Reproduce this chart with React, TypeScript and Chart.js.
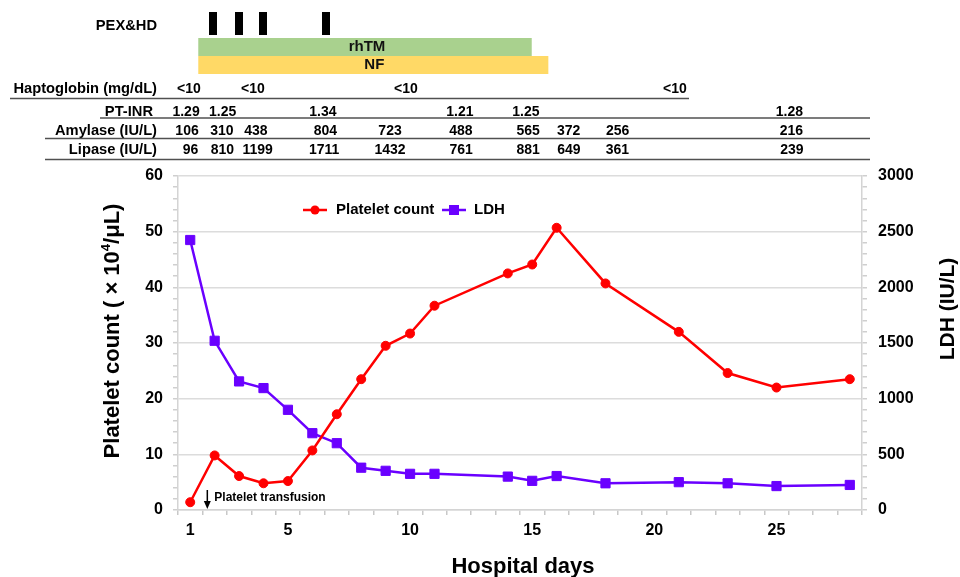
import React, { useEffect, useRef } from 'react';
import { Chart, registerables } from 'chart.js';

Chart.register(...registerables);

// ---------- data ----------
const dayLabels = ['1', '2', '3', '4', '5', '6', '7', '8', '9', '10', '11', '12', '13', '14',
  '15', '16', '17', '18', '19', '20', '21', '22', '23', '24', '25', '26', '27', '28'];
const xTickDays = [1, 5, 10, 15, 20, 25];

const sampleDays = [1, 2, 3, 4, 5, 6, 7, 8, 9, 10, 11, 14, 15, 16, 18, 21, 23, 25, 28];
const plateletCount = [1.4, 9.8, 6.1, 4.8, 5.2, 10.7, 17.2, 23.5, 29.5, 31.7, 36.7, 42.5, 44.1, 50.7, 40.7, 32.0, 24.6, 22.0, 23.5];
const ldhValues = [2425, 1520, 1155, 1095, 900, 690, 600, 380, 352, 325, 325, 300, 262, 305, 240, 250, 240, 215, 225];

// treatment / lab table (positions in hospital-day units)
const pexHdDays = [1.93, 2.99, 3.99, 6.57];
const rhTMSpan = [1.33, 14.98];
const nfSpan = [1.33, 15.66];
const haptoglobinValues = ['<10', '<10', '<10', '<10'];
const haptoglobinAt = [0.95, 3.57, 9.83, 20.84];
const ptInrValues = ['1.29', '1.25', '1.34', '1.21', '1.25', '1.28'];
const ptInrAt = [0.83, 2.33, 6.43, 12.04, 14.74, 25.53];
const amylaseValues = ['106', '310', '438', '804', '723', '488', '565', '372', '256', '216'];
const amylaseAt = [0.87, 2.30, 3.69, 6.53, 9.18, 12.08, 14.83, 16.49, 18.50, 25.61];
const lipaseValues = ['96', '810', '1199', '1711', '1432', '761', '881', '649', '361', '239'];
const lipaseAt = [1.01, 2.32, 3.76, 6.48, 9.18, 12.09, 14.83, 16.50, 18.49, 25.63];
const transfusionDay = 1.7;

const FONT = '"Liberation Sans", Arial, sans-serif';
const RED = '#ff0000';
const PURPLE = '#6a00ff';

const overlay = {
  id: 'overlay',
  afterDraw(chart: any) {
    const ctx: CanvasRenderingContext2D = chart.ctx;
    const xs = chart.scales.x;
    const px = (d: number) => xs.getPixelForValue(d - 1);
    ctx.save();
    ctx.fillStyle = '#000';
    ctx.textBaseline = 'middle';

    // ---- top table ----
    ctx.font = `bold 14.7px ${FONT}`;
    ctx.textAlign = 'right';
    ctx.fillText('PEX&HD', 157, 26);
    ctx.fillText('Haptoglobin (mg/dL)', 157, 89);
    ctx.fillText('PT-INR', 153, 112);
    ctx.fillText('Amylase (IU/L)', 157, 131);
    ctx.fillText('Lipase (IU/L)', 157, 150);

    // PEX&HD bars
    ctx.fillStyle = '#000';
    pexHdDays.forEach((d) => {
      const c = px(d);
      ctx.fillRect(Math.round(c - 4), 12, 8, 23);
    });
    // rhTM and NF bars
    ctx.fillStyle = '#a9d18e';
    ctx.fillRect(px(rhTMSpan[0]), 38, px(rhTMSpan[1]) - px(rhTMSpan[0]), 18);
    ctx.fillStyle = '#ffd966';
    ctx.fillRect(px(nfSpan[0]), 56, px(nfSpan[1]) - px(nfSpan[0]), 18);
    ctx.fillStyle = '#111';
    ctx.textAlign = 'center';
    ctx.font = `bold 15px ${FONT}`;
    ctx.fillText('rhTM', (px(rhTMSpan[0]) + px(rhTMSpan[1])) / 2 + 2, 47);
    ctx.fillText('NF', (px(nfSpan[0]) + px(nfSpan[1])) / 2 + 1, 65);

    ctx.fillStyle = '#000';
    ctx.font = `bold 14px ${FONT}`;
    const row = (vals: string[], at: number[], y: number) => {
      vals.forEach((v, i) => ctx.fillText(v, px(at[i]), y));
    };
    row(haptoglobinValues, haptoglobinAt, 89);
    row(ptInrValues, ptInrAt, 112);
    row(amylaseValues, amylaseAt, 131);
    row(lipaseValues, lipaseAt, 150);

    // table rules
    ctx.strokeStyle = '#505050';
    ctx.lineWidth = 1.5;
    const rule = (x1: number, x2: number, y: number) => {
      ctx.beginPath();
      ctx.moveTo(x1, y);
      ctx.lineTo(x2, y);
      ctx.stroke();
    };
    rule(10, 689, 98.5);
    rule(100, 870, 118);
    rule(45, 870, 138.5);
    rule(45, 870, 159.5);

    // ---- legend ----
    const ly = 210;
    ctx.lineWidth = 2.5;
    ctx.strokeStyle = RED;
    rule(303, 327, ly);
    ctx.fillStyle = RED;
    ctx.beginPath();
    ctx.arc(315, ly, 4.5, 0, Math.PI * 2);
    ctx.fill();
    ctx.strokeStyle = PURPLE;
    rule(442, 466, ly);
    ctx.fillStyle = PURPLE;
    ctx.fillRect(449, ly - 5, 10, 10);
    ctx.fillStyle = '#000';
    ctx.textAlign = 'left';
    ctx.font = `bold 15px ${FONT}`;
    ctx.fillText('Platelet count', 336, ly);
    ctx.fillText('LDH', 474, ly);

    // ---- platelet transfusion annotation ----
    const ax = px(transfusionDay);
    ctx.strokeStyle = '#000';
    ctx.lineWidth = 1.5;
    ctx.beginPath();
    ctx.moveTo(ax, 509);
    ctx.lineTo(ax - 3.5, 501);
    ctx.lineTo(ax + 3.5, 501);
    ctx.closePath();
    ctx.fillStyle = '#000';
    ctx.fill();
    ctx.beginPath();
    ctx.moveTo(ax, 490);
    ctx.lineTo(ax, 503);
    ctx.stroke();
    ctx.font = `bold 12px ${FONT}`;
    ctx.textAlign = 'left';
    ctx.fillText('Platelet transfusion', ax + 7, 498);

    // ---- axis titles ----
    // left
    ctx.save();
    ctx.translate(113, 331);
    ctx.rotate(-Math.PI / 2);
    const big = `bold 22px ${FONT}`;
    const sup = `bold 13px ${FONT}`;
    const p1 = 'Platelet count ( \u00d7 10';
    const p2 = '4';
    const p3 = '/\u03bcL)';
    ctx.font = big;
    const w1 = ctx.measureText(p1).width;
    const w3 = ctx.measureText(p3).width;
    ctx.font = sup;
    const w2 = ctx.measureText(p2).width;
    const total = w1 + w2 + w3;
    let cx = -total / 2;
    ctx.textAlign = 'left';
    ctx.font = big;
    ctx.fillText(p1, cx, 0);
    cx += w1;
    ctx.font = sup;
    ctx.fillText(p2, cx, -7);
    cx += w2;
    ctx.font = big;
    ctx.fillText(p3, cx, 0);
    ctx.restore();

    // right
    ctx.save();
    ctx.translate(948, 309);
    ctx.rotate(-Math.PI / 2);
    ctx.textAlign = 'center';
    ctx.font = `bold 21px ${FONT}`;
    ctx.fillText('LDH (IU/L)', 0, 0);
    ctx.restore();

    // bottom
    ctx.textAlign = 'center';
    ctx.font = `bold 22px ${FONT}`;
    ctx.fillText('Hospital days', 523, 567);

    ctx.restore();
  },
};

export default function App() {
  const ref = useRef<HTMLCanvasElement | null>(null);

  useEffect(() => {
    if (!ref.current) return;
    const tickFont = { family: FONT, size: 16, weight: 'bold' as const };
    const chart = new Chart(ref.current, {
      type: 'line',
      data: {
        labels: dayLabels,
        datasets: [
          {
            label: 'Platelet count',
            data: sampleDays.map((d, i) => ({ x: String(d), y: plateletCount[i] })),
            yAxisID: 'y',
            borderColor: RED,
            backgroundColor: RED,
            borderWidth: 2.5,
            pointStyle: 'circle',
            pointRadius: 4.5,
            pointBorderWidth: 1,
            tension: 0,
          },
          {
            label: 'LDH',
            data: sampleDays.map((d, i) => ({ x: String(d), y: ldhValues[i] })),
            yAxisID: 'y1',
            borderColor: PURPLE,
            backgroundColor: PURPLE,
            borderWidth: 2.5,
            pointStyle: 'rect',
            pointRadius: 6.5,
            pointBorderWidth: 1,
            tension: 0,
          },
        ],
      },
      options: {
        responsive: false,
        animation: false,
        devicePixelRatio: 1,
        layout: { padding: { top: 176, left: 0, right: 0, bottom: 0 } },
        plugins: { legend: { display: false }, tooltip: { enabled: false } },
        scales: {
          x: {
            type: 'category',
            offset: true,
            afterFit: (s: any) => { s.height = 67; },
            grid: {
              offset: true,
              drawOnChartArea: false,
              tickLength: 5,
              tickColor: '#c8c8c8',
              lineWidth: 1.5,
            },
            border: { color: '#d4d4d4', width: 1.5 },
            ticks: {
              autoSkip: false,
              maxRotation: 0,
              padding: 6,
              color: '#000',
              font: tickFont,
              callback: (_v: any, i: number) => (xTickDays.includes(Number(dayLabels[i])) ? dayLabels[i] : ''),
            },
          },
          y: {
            position: 'left',
            min: 0,
            max: 60,
            afterFit: (s: any) => { s.width = 178; },
            grid: {
              color: (c: any) => (c.tick && c.tick.value % 10 === 0 ? '#dcdcdc' : 'rgba(0,0,0,0)'),
              tickColor: '#cfcfcf',
              tickLength: 5,
              lineWidth: 1.5,
            },
            border: { color: '#d4d4d4', width: 1.5 },
            ticks: {
              stepSize: 2,
              autoSkip: false,
              padding: 10,
              color: '#000',
              font: tickFont,
              callback: (v: any) => (Number(v) % 10 === 0 ? String(v) : ''),
            },
          },
          y1: {
            position: 'right',
            min: 0,
            max: 3000,
            afterFit: (s: any) => { s.width = 98; },
            grid: {
              drawOnChartArea: false,
              tickColor: '#cfcfcf',
              tickLength: 5,
              lineWidth: 1.5,
            },
            border: { color: '#d4d4d4', width: 1.5 },
            ticks: {
              stepSize: 100,
              autoSkip: false,
              padding: 11,
              color: '#000',
              font: tickFont,
              callback: (v: any) => (Number(v) % 500 === 0 ? String(v) : ''),
            },
          },
        },
      },
      plugins: [overlay],
    } as any);
    return () => chart.destroy();
  }, []);

  return (
    <div style={{ position: 'fixed', left: 0, top: 0, width: 960, height: 577, background: '#fff' }}>
      <canvas ref={ref} width={960} height={577} style={{ width: 960, height: 577, display: 'block' }} />
    </div>
  );
}
